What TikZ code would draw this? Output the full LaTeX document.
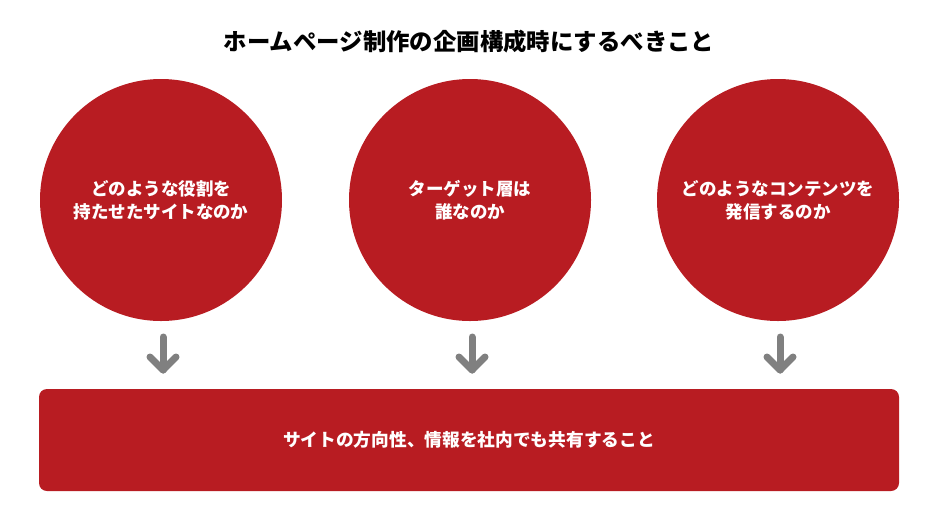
\documentclass[tikz,border=0pt]{standalone}
\usepackage{fontspec}
\newfontfamily\jp{Noto Sans CJK JP}
\definecolor{brandred}{RGB}{184,28,34}
\definecolor{arrowgray}{RGB}{128,128,128}
\begin{document}
\begin{tikzpicture}[x=1pt,y=-1pt,
  bubble/.style={circle,fill=brandred,minimum size=242pt,inner sep=0pt,
    text=white,font=\jp\bfseries\fontsize{17.5}{23}\selectfont,align=center},
  banner/.style={rectangle,rounded corners=8pt,fill=brandred,minimum width=860pt,
    minimum height=102pt,inner sep=0pt,text=white,font=\jp\bfseries\fontsize{17.7}{23}\selectfont},
  downarrow/.style={draw=arrowgray,line width=7pt,line cap=round,line join=round}]
\useasboundingbox (0,0) rectangle (940,531);
\node[font=\jp\bfseries\fontsize{23.4}{28}\selectfont] (title) at (469,42) {ホームページ制作の企画構成時にするべきこと};
\node[bubble] (c1) at (161,200) {どのような役割を\\持たせたサイトなのか};
\node[bubble] (c2) at (470,200) {ターゲット層は\\誰なのか};
\node[bubble] (c3) at (778,200) {どのようなコンテンツを\\発信するのか};
\node[banner] (box) at (469,440) {サイトの方向性、情報を社内でも共有すること};
\foreach \i/\x in {1/163,2/472,3/780}{
  \coordinate (s\i) at (\x,337);
  \coordinate (e\i) at (\x,370);
  \draw[downarrow] (s\i) -- (e\i);
  \draw[downarrow] (e\i) ++(-13,-13) -- (e\i) -- ++(13,-13);
}
\end{tikzpicture}
\end{document}
